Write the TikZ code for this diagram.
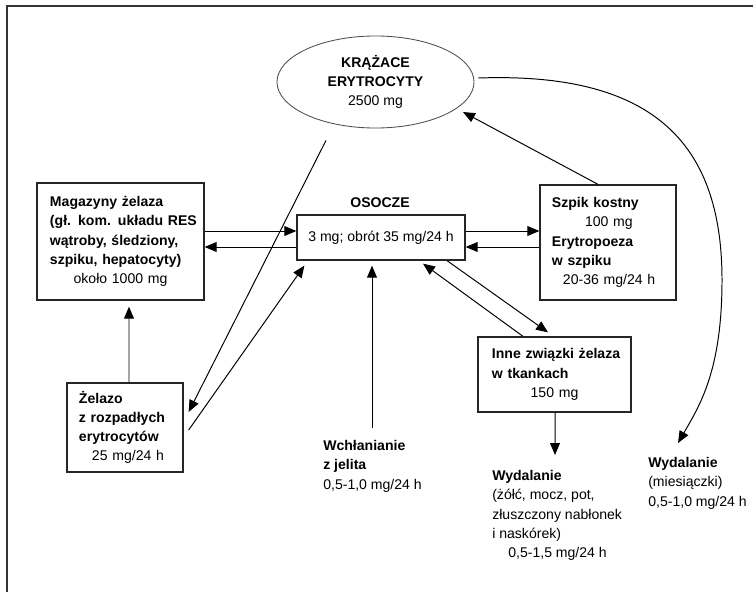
\documentclass[tikz,border=0pt]{standalone}
\usepackage{fontspec}
\setmainfont{Liberation Sans}
\usetikzlibrary{arrows.meta,shapes.geometric}
\tikzset{
  box/.style={draw=black!85,line width=0.9pt,align=left,inner ysep=0pt},
  lbl/.style={anchor=north west,inner sep=0pt,align=left},
  arr/.style={-{Triangle[length=8.5pt,width=7pt]},line width=0.7pt,draw=black}
}
\begin{document}
\begin{tikzpicture}[x=0.025cm,y=-0.025cm,font=\fontsize{10}{13.7}\selectfont]
    \useasboundingbox (0,0) rectangle (753,592);
    \draw[line width=1.2pt,black!80] (7,592) -- (7,6) -- (753,6);
    \node[draw=black!70,line width=0.6pt,ellipse,minimum width=4.925cm,minimum height=2.3cm,inner sep=0pt,align=center] (rbc) at (375.5,82)
        {\textbf{KRĄŻACE}\\\textbf{ERYTROCYTY}\\2500 mg};
    \node[box,text width=3.525cm,inner xsep=0.325cm,minimum height=2.925cm] (mag) at (120.5,241.5)
        {\textbf{Magazyny żelaza}\\\mbox{\textbf{(gł. kom. układu RES}}\\\mbox{\textbf{wątroby, śledziony,}}\\\mbox{\textbf{szpiku, hepatocyty)}}\\\makebox[\linewidth]{około 1000 mg}};
    \node (plasmalbl) at (380,203) {\textbf{OSOCZE}};
    \node[draw=black!85,line width=0.9pt,minimum width=4.2cm,minimum height=1.125cm] (plasma) at (381,237.5) {3 mg; obrót 35 mg/24 h};
    \node[box,text width=2.8cm,inner xsep=0.3cm,minimum height=2.875cm] (marrow) at (608,242.5)
        {\mbox{\textbf{Szpik kostny}}\\\hspace*{0.825cm}100 mg\\\textbf{Erytropoeza}\\\textbf{w szpiku}\\\hspace*{0.275cm}\mbox{20-36 mg/24 h}};
    \node[box,text width=2.3cm,inner xsep=0.3cm,minimum height=2.225cm] (zel) at (125,427.5)
        {\textbf{Żelazo}\\\mbox{\textbf{z rozpadłych}}\\\mbox{\textbf{erytrocytów}}\\\hspace*{0.325cm}\mbox{25 mg/24 h}};
    \node[box,text width=3.125cm,inner xsep=0.35cm,minimum height=1.875cm] (inne) at (554.5,374.5)
        {\mbox{\textbf{Inne związki żelaza}}\\\textbf{w tkankach}\\\makebox[\linewidth]{150 mg}};
    \node[lbl] (intake) at (323,440) {\textbf{Wchłanianie}\\\textbf{z jelita}\\0,5-1,0 mg/24 h};
    \node[lbl] (outother) at (492,470) {\textbf{Wydalanie}\\(żółć, mocz, pot,\\złuszczony nabłonek\\i naskórek)\\\hspace*{0.4cm}0,5-1,5 mg/24 h};
    \node[lbl] (outmenses) at (648,457) {\textbf{Wydalanie}\\(miesiączki)\\0,5-1,0 mg/24 h};
    \coordinate (mensesin) at (678,443);
    \draw[arr] (mag.east |- 0,231) -- (plasma.west |- 0,231);
    \draw[arr] (plasma.west |- 0,247) -- (mag.east |- 0,247);
    \draw[arr] (plasma.east |- 0,231) -- (marrow.west |- 0,231);
    \draw[arr] (marrow.west |- 0,247) -- (plasma.east |- 0,247);
    \draw[arr] ([shift={(-10,0)}]marrow.north) -- ([shift={(87.5,30)}]rbc.center);
    \draw[arr] ([shift={(4,-4)}]rbc.east) .. controls (650,72) and (722,140) .. (722,280)
        .. controls (722,370) and (700,405) .. (mensesin);
    \draw[arr] ([shift={(-49.5,12)}]rbc.south) -- ([shift={(5,-15.5)}]zel.east);
    \draw[arr] ([shift={(5,2.5)}]zel.east) -- ([shift={(8,5)}]plasma.south west);
    \draw[arr] ([shift={(4,0)}]zel.north) -- ([shift={(8.5,6)}]mag.south);
    \draw[arr] ([shift={(49,-12)}]intake.north west) -- ([shift={(-9,5)}]plasma.south);
    \draw[arr] ([shift={(66,0)}]plasma.south) -- ([shift={(-6.5,-4)}]inne.north);
    \draw[arr] ([shift={(-31.5,0)}]inne.north) -- ([shift={(42,3)}]plasma.south);
    \draw[arr] ([shift={(0.5,0)}]inne.south) -- ([shift={(63,-15)}]outother.north west);
\end{tikzpicture}
\end{document}
